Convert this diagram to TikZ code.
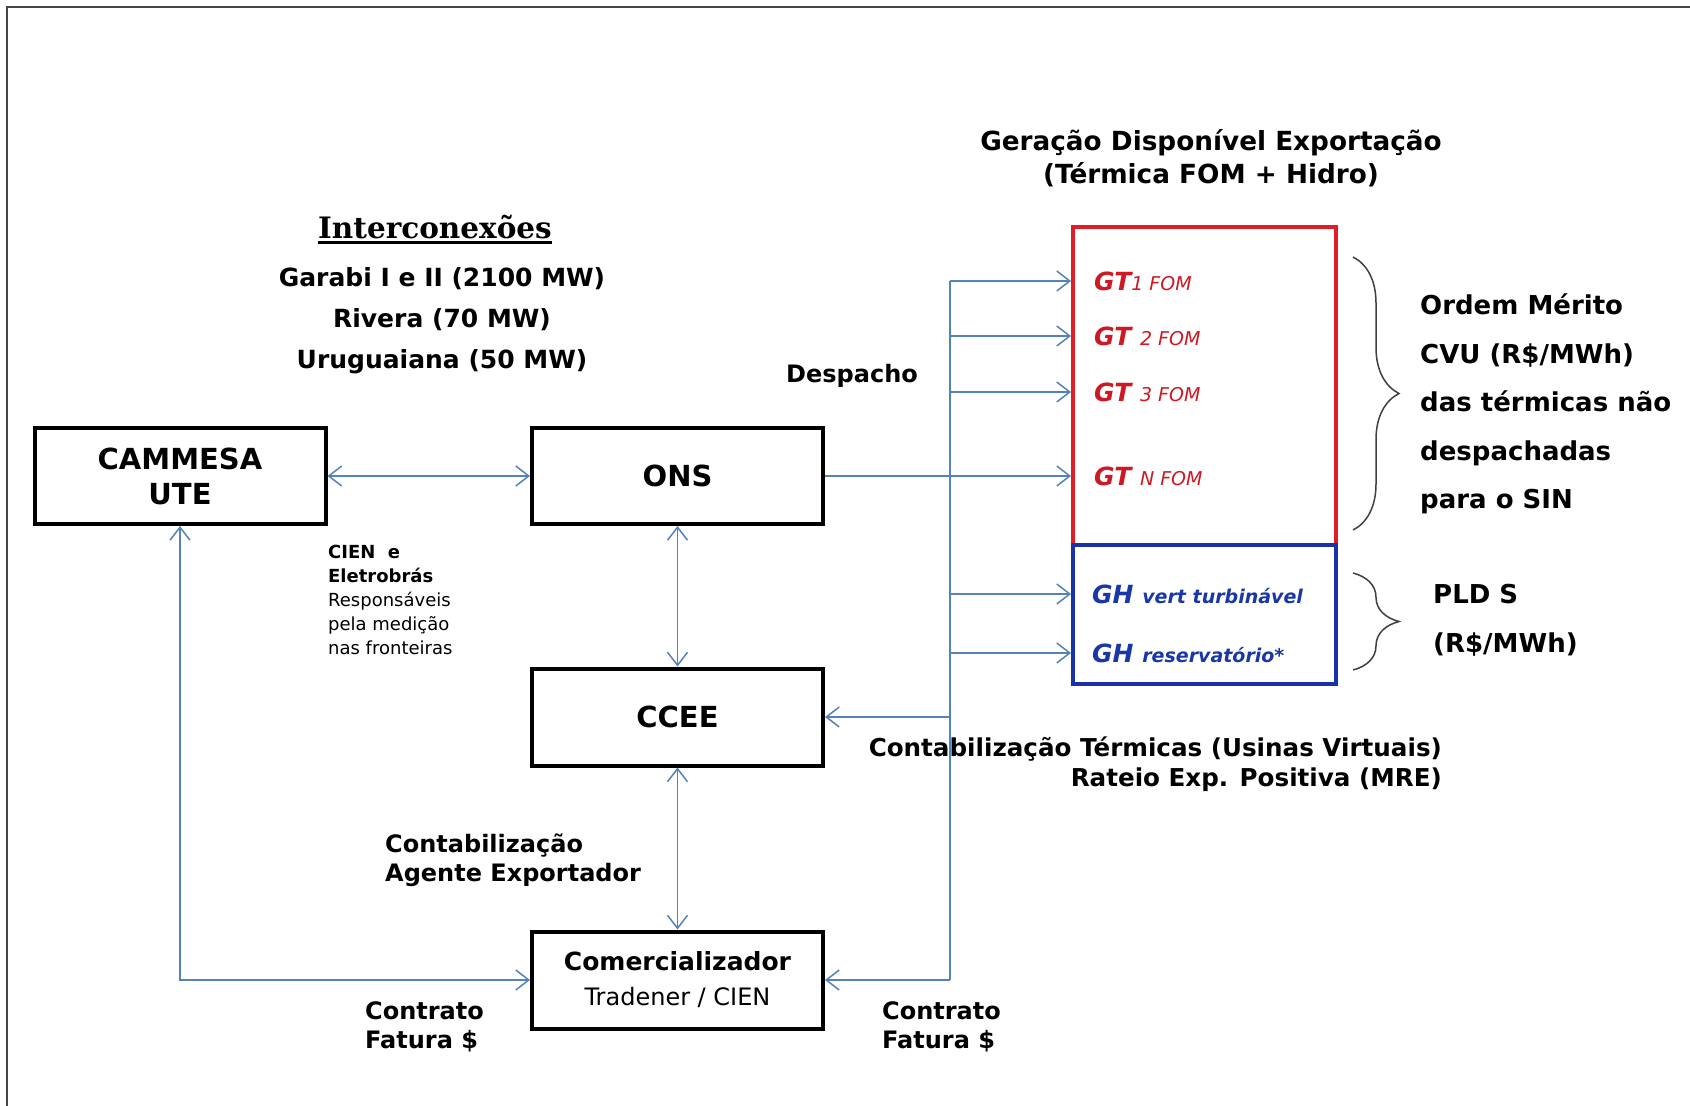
\documentclass[tikz,border=0pt]{standalone}
\usepackage{fontspec}
\setmainfont{DejaVu Sans}
\newfontfamily\slabfont{DejaVu Serif}
\usetikzlibrary{arrows.meta,decorations.pathreplacing,calc}
\definecolor{linkblue}{RGB}{84,130,185}
\definecolor{gtred}{RGB}{205,25,35}
\definecolor{boxred}{RGB}{225,30,40}
\definecolor{ghblue}{RGB}{25,55,165}
\definecolor{boxblue}{RGB}{25,50,170}
\definecolor{framegray}{RGB}{70,70,70}
\begin{document}
\begin{tikzpicture}[x=1pt,y=-1pt,
  blk/.style={draw=black, line width=4pt, minimum width=291pt, minimum height=96pt, inner sep=0pt, align=center, font=\fontsize{29}{35}\selectfont\bfseries},
  arr/.style={draw=linkblue, line width=1.5pt, -{Straight Barb[length=13pt,width=20pt]}},
  arrr/.style={draw=linkblue, line width=1.5pt, {Straight Barb[length=13pt,width=20pt]}-{Straight Barb[length=13pt,width=20pt]}},
  wire/.style={draw=linkblue, line width=1.5pt},
  lbl/.style={inner sep=0pt, font=\fontsize{24}{29}\selectfont\bfseries},
  gtlbl/.style={anchor=west, inner sep=0pt, text=gtred},
  ghlbl/.style={anchor=west, inner sep=0pt, text=ghblue},
  brc/.style={draw=black!75, line width=1.5pt, decorate, decoration={brace, amplitude=46pt}},
]
\useasboundingbox (0,0) rectangle (1690,1106);
\fill[white] (0,0) rectangle (1690,1106);
% frame
\draw[framegray, line width=1.8pt] (7,1106) -- (7,7) -- (1690,7);

% main boxes
\node[blk] (cammesa) at (180,476) {CAMMESA\\UTE};
\node[blk] (ons) at (677.5,476) {ONS};
\node[blk, minimum height=97pt] (ccee) at (677.5,717) {CCEE};
\node[blk, minimum height=97pt] (com) at (677.5,980) {\fontsize{25}{31}\selectfont\bfseries Comercializador\\\fontsize{24}{31}\selectfont\mdseries Tradener / CIEN};

% generation boxes
\node[draw=boxred, line width=4pt, minimum width=263pt, minimum height=318pt, inner sep=0pt] (redbox) at (1204.5,386) {};
\node[draw=boxblue, line width=4pt, minimum width=263pt, minimum height=139pt, inner sep=0pt] (bluebox) at (1204.5,614.5) {};

\node[gtlbl] (gt1) at (1094,281) {\fontsize{25}{30}\selectfont\bfseries\itshape GT\fontsize{19}{24}\selectfont\mdseries 1 FOM};
\node[gtlbl] (gt2) at (1094,336) {\fontsize{25}{30}\selectfont\bfseries\itshape GT \fontsize{19}{24}\selectfont\mdseries 2 FOM};
\node[gtlbl] (gt3) at (1094,392) {\fontsize{25}{30}\selectfont\bfseries\itshape GT \fontsize{19}{24}\selectfont\mdseries 3 FOM};
\node[gtlbl] (gtn) at (1094,476) {\fontsize{25}{30}\selectfont\bfseries\itshape GT \fontsize{19}{24}\selectfont\mdseries N FOM};
\node[ghlbl] (gh1) at (1092,594) {\fontsize{25}{30}\selectfont\bfseries\itshape GH \fontsize{19}{24}\selectfont vert turbinável};
\node[ghlbl] (gh2) at (1092,653) {\fontsize{25}{30}\selectfont\bfseries\itshape GH \fontsize{19}{24}\selectfont reservatório*};

% bus
\coordinate (bustop) at (950,281);
\coordinate (busbot) at (950,980);
\draw[wire] (bustop) -- (busbot);
\draw[wire] (ons.east) -- (bustop |- ons.east);
\foreach \g in {gt1,gt2,gt3,gtn,gh1,gh2}{
  \draw[arr] (bustop |- \g.west) -- (redbox.west |- \g.west);
}
\draw[arr] (bustop |- ccee.east) -- (ccee.east);
\draw[arr] (busbot) -- (com.east);

% other connectors
\draw[arrr] (cammesa.east) -- (ons.west);
\draw[arrr] (ons.south) -- (ccee.north);
\draw[arrr] (ccee.south) -- (com.north);
\draw[arrr] (com.west) -- (cammesa.south |- com.west) -- (cammesa.south);

% braces
\draw[brc] (1353,257) -- (1353,530);
\draw[brc] (1353,573) -- (1353,670);

% texts
\node[lbl, align=center, font=\fontsize{26.3}{33}\selectfont\bfseries] (title) at (1211,158.5) {Geração Disponível Exportação\\(Térmica FOM + Hidro)};
\node[inner sep=0pt, font=\fontsize{29.5}{35}\selectfont\slabfont\bfseries] (inter) at (435,227) {Interconexões};
\draw[black, line width=2.4pt] ([yshift=-4pt]inter.base west) -- ([yshift=-4pt]inter.base east);
\node[lbl, align=center, font=\fontsize{25}{41}\selectfont\bfseries] (garabi) at (442,321) {Garabi I e II (2100 MW)\\Rivera (70 MW)\\Uruguaiana (50 MW)};
\node[lbl] (desp) at (852,376) {Despacho};
\node[inner sep=0pt, anchor=west, align=left, font=\fontsize{18}{24}\selectfont] (cien) at (328,599.5) {\bfseries CIEN~ e\\\bfseries Eletrobrás\\Responsáveis\\pela medição\\nas fronteiras};
\node[lbl, anchor=west, align=left] (contab) at (385,860.5) {Contabilização\\Agente Exportador};
\node[lbl, anchor=west, align=left] (contr1) at (365,1026.5) {Contrato\\Fatura \$};
\node[lbl, anchor=west, align=left] (contr2) at (882,1026.5) {Contrato\\Fatura \$};
\node[lbl, anchor=east, align=right, font=\fontsize{24.6}{30}\selectfont\bfseries] (contterm) at (1442,764) {Contabilização Térmicas (Usinas Virtuais)\\Rateio Exp. Positiva (MRE)};
\node[lbl, anchor=west, align=left, font=\fontsize{26}{48.5}\selectfont\bfseries] (ordem) at (1420,404) {Ordem Mérito\\CVU (R\$/MWh)\\das térmicas não\\despachadas\\para o SIN};
\node[lbl, anchor=west, align=left, font=\fontsize{26}{49}\selectfont\bfseries] (pld) at (1433,620) {PLD S\\(R\$/MWh)};
\end{tikzpicture}
\end{document}
